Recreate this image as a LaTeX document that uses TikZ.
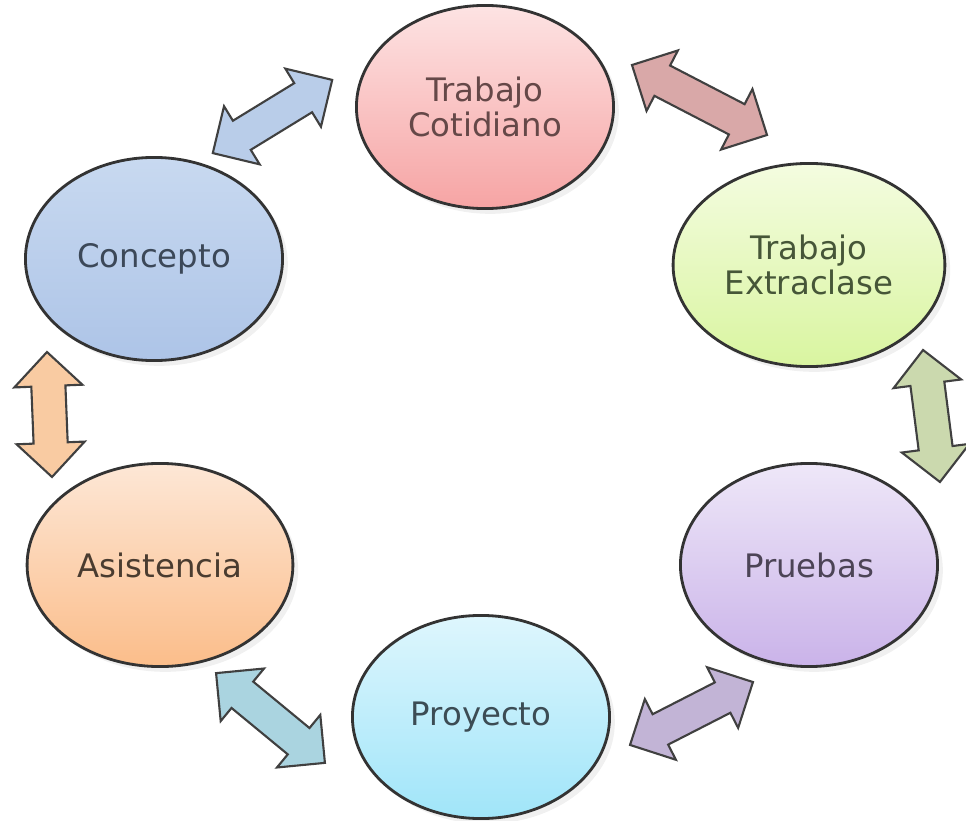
\documentclass[tikz,border=0pt]{standalone}
\usepackage{fontspec}
\setmainfont{DejaVu Sans}
\usepackage{xcolor}
\usepackage{tikz}
\usetikzlibrary{shapes.geometric,shapes.arrows,shadows}

\definecolor{cotidianoA}{HTML}{FDE3E3}
\definecolor{cotidianoB}{HTML}{F6A4A4}
\definecolor{extraA}{HTML}{F4FCE0}
\definecolor{extraB}{HTML}{D9F5A0}
\definecolor{conceptoA}{HTML}{C8D9F0}
\definecolor{conceptoB}{HTML}{ADC4E7}
\definecolor{asistA}{HTML}{FDE7D6}
\definecolor{asistB}{HTML}{FBBD8A}
\definecolor{pruebasA}{HTML}{EEE7F8}
\definecolor{pruebasB}{HTML}{CAB3E9}
\definecolor{proyA}{HTML}{DEF6FD}
\definecolor{proyB}{HTML}{A0E5F9}
% texto
\definecolor{cotidianoT}{HTML}{654848}
\definecolor{extraT}{HTML}{465638}
\definecolor{conceptoT}{HTML}{3C4858}
\definecolor{asistT}{HTML}{4A3C30}
\definecolor{pruebasT}{HTML}{4C4456}
\definecolor{proyT}{HTML}{3C4C54}
% flechas
\definecolor{fazul}{HTML}{B9CDE9}
\definecolor{frosa}{HTML}{D9A8A8}
\definecolor{fverde}{HTML}{CBD9AE}
\definecolor{fmorado}{HTML}{C2B4D6}
\definecolor{fceleste}{HTML}{AAD4E0}
\definecolor{fnaranja}{HTML}{F9CBA2}

\tikzset{
  burbuja/.style={ellipse, draw=black!80, line width=0.8pt,
    minimum width=2.57cm, minimum height=2.03cm, align=center,
    font=\fontsize{9.2}{10.2}\selectfont,
    drop shadow={opacity=0.12, shadow xshift=1.5pt, shadow yshift=-1.5pt}},
  flecha/.style={double arrow, draw=black!75, line width=0.6pt,
    inner xsep=0pt, inner ysep=0.16cm, double arrow head extend=0.17cm,
    minimum height=#1}
}

\begin{document}
\begin{tikzpicture}[x=0.01cm, y=-0.01cm]
    \useasboundingbox (0,0) rectangle (966,821);

    % las seis burbujas
    \node[burbuja, top color=cotidianoA, bottom color=cotidianoB, text=cotidianoT] (cotidiano) at (485,107) {Trabajo\\Cotidiano};
    \node[burbuja, top color=extraA, bottom color=extraB, text=extraT] (extraclase) at (809,265) {Trabajo\\Extraclase};
    \node[burbuja, top color=pruebasA, bottom color=pruebasB, text=pruebasT] (pruebas) at (809,565) {Pruebas};
    \node[burbuja, top color=proyA, bottom color=proyB, text=proyT] (proyecto) at (481,717) {Proyecto};
    \node[burbuja, top color=asistA, bottom color=asistB, text=asistT] (asistencia) at (160,565) {Asistencia};
    \node[burbuja, top color=conceptoA, bottom color=conceptoB, text=conceptoT] (concepto) at (154,259) {Concepto};

    % flechas dobles
    \node[flecha=1.40cm, fill=fazul, rotate=31.5] (fconcepto) at (272.5,116.5) {};
    \node[flecha=1.52cm, fill=frosa, rotate=-27.4] (fcotidiano) at (699.5,100) {};
    \node[flecha=1.33cm, fill=fverde, rotate=-82.7] (fextra) at (931.5,416) {};
    \node[flecha=1.38cm, fill=fmorado, rotate=27.1] (fpruebas) at (691.5,713.5) {};
    \node[flecha=1.41cm, fill=fceleste, rotate=-39.5] (fproyecto) at (270.5,718) {};
    \node[flecha=1.25cm, fill=fnaranja, rotate=-87.7] (fasist) at (49.5,414.5) {};
\end{tikzpicture}
\end{document}
